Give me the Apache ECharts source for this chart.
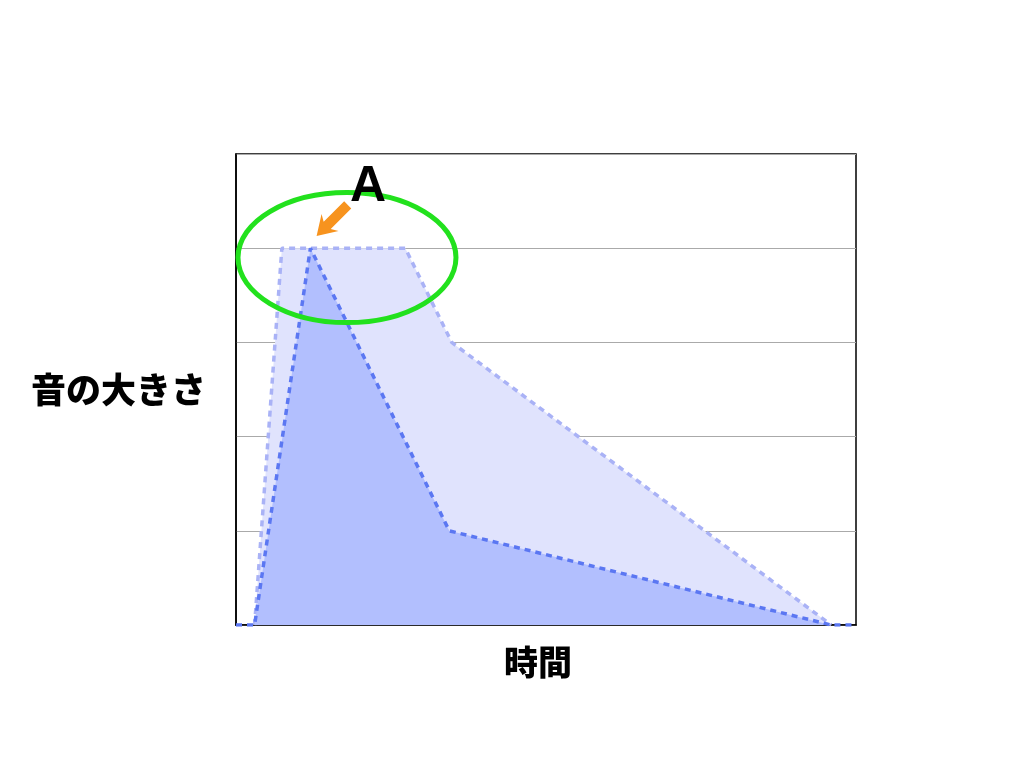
<!DOCTYPE html>
<html>
<head>
<meta charset="utf-8">
<script src="https://cdn.jsdelivr.net/npm/echarts@6/dist/echarts.min.js"></script>
<style>
  html, body { margin: 0; padding: 0; background: #fff; }
  #container { width: 1024px; height: 768px; }
</style>
</head>
<body>
<div id="container"></div>
<script>
// 時間 (0-100), 音の大きさ (0-5)
var attackTime = [0, 3, 12, 34.4, 96, 100]
var attackLevel = [0, 0, 4, 1, 0, 0]
var sustainTime = [3, 7.4, 27.3, 34.8, 96]
var sustainLevel = [0, 4, 4, 3, 0]
var yTicks = [0, 1, 2, 3, 4, 5]

function zip(xs, ys) {
  return xs.map(function(x, i) { return [x, ys[i]] })
}

var dom = document.getElementById('container')
var myChart = echarts.init(dom)
var jpFont = '"Noto Sans CJK JP", "Noto Sans", sans-serif'

var option = {
  backgroundColor: '#fff',
  animation: false,
  grid: {
    left: 236,
    top: 154,
    right: 168,
    bottom: 143,
    show: true,
    borderColor: '#000',
    borderWidth: 1.5
  },
  xAxis: {
    type: 'value',
    min: 0,
    max: 100,
    name: '時間',
    nameLocation: 'middle',
    nameGap: 20,
    nameTextStyle: {
      color: '#000',
      fontSize: 34,
      fontWeight: 900,
      fontFamily: jpFont,
      padding: [0, 16, 0, 0]
    },
    axisLine: { lineStyle: { color: '#000', width: 1.5 } },
    axisTick: { show: false },
    axisLabel: { show: false },
    splitLine: { show: false }
  },
  yAxis: {
    type: 'value',
    min: yTicks[0],
    max: yTicks[yTicks.length - 1],
    interval: 1,
    name: '音の大きさ',
    nameLocation: 'middle',
    nameRotate: 0,
    nameGap: 30,
    nameTextStyle: {
      color: '#000',
      fontSize: 35,
      fontWeight: 900,
      fontFamily: jpFont
    },
    axisLine: { show: true, lineStyle: { color: '#000', width: 1.5 } },
    axisTick: { show: false },
    axisLabel: { show: false },
    splitLine: { lineStyle: { color: '#aaaaaa', width: 1 } }
  },
  series: [{
    name: 'sustain',
    type: 'line',
    data: zip(sustainTime, sustainLevel),
    showSymbol: false,
    z: 2,
    lineStyle: { color: '#a9b2f6', width: 3.5, type: [6, 5] },
    areaStyle: { color: '#e0e3fd', opacity: 1 }
  }, {
    name: 'attack',
    type: 'line',
    data: zip(attackTime, attackLevel),
    showSymbol: false,
    z: 3,
    lineStyle: { color: '#5b77f2', width: 3.5, type: [6, 5] },
    areaStyle: { color: '#b2bffe', opacity: 1 }
  }]
}

myChart.setOption(option)

// 注釈：ピーク付近の楕円・矢印・「A」
var c = myChart.convertToPixel({ gridIndex: 0 }, [17.9, 3.9])
var tip = myChart.convertToPixel({ gridIndex: 0 }, [13, 4.13])
var tail = [tip[0] + 30, tip[1] - 30]
var ang = Math.atan2(tip[1] - tail[1], tip[0] - tail[0])
function rot(dx, dy) {
  return [tip[0] + dx * Math.cos(ang) - dy * Math.sin(ang), tip[1] + dx * Math.sin(ang) + dy * Math.cos(ang)]
}
var arrowPts = [
  rot(0, 0), rot(-19, 12), rot(-15, 5), rot(-44, 5),
  rot(-44, -5), rot(-15, -5), rot(-19, -12)
]

myChart.setOption({
  graphic: [{
    type: 'ellipse',
    z: 100,
    shape: { cx: c[0], cy: c[1], rx: 109, ry: 65 },
    style: { fill: 'none', stroke: '#22e11d', lineWidth: 5 }
  }, {
    type: 'polygon',
    z: 101,
    shape: { points: arrowPts },
    style: { fill: '#f7931e' }
  }, {
    type: 'text',
    z: 101,
    x: c[0] + 21,
    y: c[1] - 70,
    style: {
      text: 'A',
      fill: '#000',
      font: 'bold 50px "Liberation Sans", Arial, sans-serif',
      align: 'center',
      verticalAlign: 'middle'
    }
  }]
})
</script>
</body>
</html>
